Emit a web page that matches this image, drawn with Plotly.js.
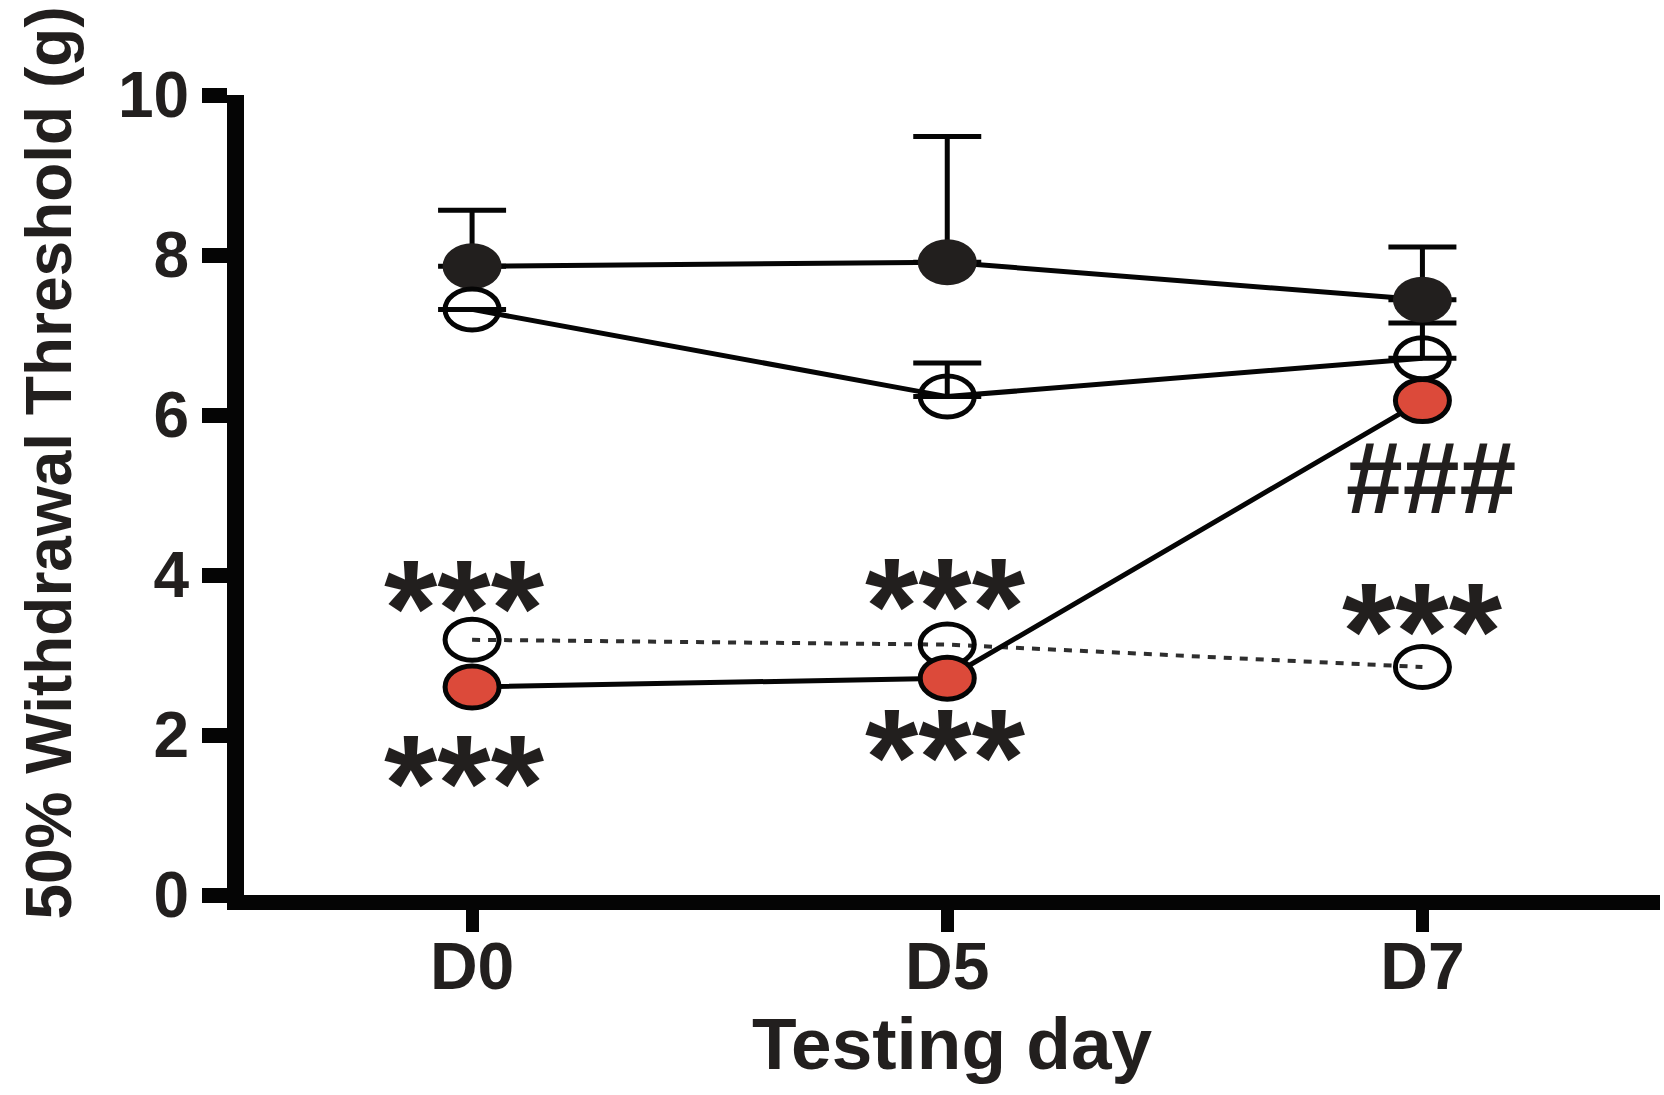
<!DOCTYPE html>
<html><head><meta charset="utf-8">
<script src="https://cdn.plot.ly/plotly-3.0.1.min.js"></script>
<style>html,body{margin:0;padding:0;background:#fff;} #chart{width:1664px;height:1095px;}</style>
</head><body><div id="chart"></div>
<script>
// ---- data ----
const days = ['D0', 'D5', 'D7'];
const filledMean = [7.86, 7.91, 7.44];
const filledErr  = [0.70, 1.57, 0.66];
const openMean   = [7.32, 6.23, 6.71];
const openErr    = [NaN, 0.42, 0.44];   // no visible bar at D0
const dottedMean = [3.19, 3.13, 2.85];
const redMean    = [2.60, 2.71, 6.18];
const starText = ['***', '***', '***', '***', '***'];
const starDay  = [-0.017, -0.017, 0.996, 0.996, 2.0];
const starY    = [3.82, 1.63, 3.84, 1.96, 3.53];
const hashText = ['###'];
const hashDay  = [2.019];
const hashY    = [5.21];
const yTitle = '50% Withdrawal Threshold (g)';
const xTitle = 'Testing day';

const FONT = 'Liberation Sans, Arial, Helvetica, sans-serif';
const INK = '#221f1e';
const BLACK = '#050505';
const RED = '#dc4a3a';

const errStyle = (arr) => ({type: 'data', array: arr, arrayminus: arr.map(() => 0), symmetric: false,
                            color: BLACK, thickness: 5, width: 34});

const traces = [
  { name: 'filled', x: days, y: filledMean, type: 'scatter', mode: 'lines',
    line: {color: BLACK, width: 5}, error_y: errStyle(filledErr) },
  { name: 'open', x: days, y: openMean, type: 'scatter', mode: 'lines',
    line: {color: BLACK, width: 5}, error_y: errStyle(openErr) },
  { name: 'open dotted', x: days, y: dottedMean, type: 'scatter', mode: 'lines',
    line: {color: '#2e2e2e', width: 4, dash: '8px,8px'} },
  { name: 'red', x: days, y: redMean, type: 'scatter', mode: 'lines',
    line: {color: BLACK, width: 5} }
];

// elliptical markers (the reference is horizontally stretched), anchored on the data values
function markerShapes(values, fill, lineW, w, h) {
  return values.map((v, i) => ({
    type: 'circle', xref: 'x', yref: 'y', layer: 'above',
    xsizemode: 'pixel', ysizemode: 'pixel', xanchor: i, yanchor: v,
    x0: -w / 2, x1: w / 2, y0: -h / 2, y1: h / 2,
    fillcolor: fill, line: {color: BLACK, width: lineW}
  }));
}
const shapes = [].concat(
  markerShapes(filledMean, INK, 0, 59, 46),
  markerShapes(openMean, 'rgba(0,0,0,0)', 5, 54, 41),
  markerShapes(dottedMean, 'rgba(0,0,0,0)', 5, 54, 41),
  markerShapes(redMean, RED, 5, 54, 42)
);

const annotations = [];
for (let i = 0; i < starText.length; i++) {
  annotations.push({ x: starDay[i], y: starY[i], xref: 'x', yref: 'y', text: starText[i],
    showarrow: false, xanchor: 'center', yanchor: 'middle', yshift: -19,
    font: {family: FONT, size: 137, color: INK, weight: 'bold'} });
}
for (let i = 0; i < hashText.length; i++) {
  annotations.push({ x: hashDay[i], y: hashY[i], xref: 'x', yref: 'y', text: hashText[i],
    showarrow: false, xanchor: 'center', yanchor: 'middle',
    font: {family: FONT, size: 102, color: INK, weight: 'bold'} });
}
annotations.push({ x: -0.138, y: 0.54, xref: 'paper', yref: 'paper', text: yTitle,
  textangle: -90, showarrow: false, xanchor: 'center', yanchor: 'middle',
  font: {family: FONT, size: 64, color: INK, weight: 'bold'} });

const layout = {
  width: 1664, height: 1095,
  paper_bgcolor: '#ffffff', plot_bgcolor: '#ffffff',
  margin: {l: 244, r: 4, t: 95, b: 200},
  showlegend: false,
  font: {family: FONT, color: INK},
  xaxis: {
    type: 'category', range: [-0.48, 2.5], showgrid: false, zeroline: false,
    showline: true, linecolor: BLACK, linewidth: 15,
    ticks: 'outside', ticklen: 22, tickwidth: 13, tickcolor: BLACK,
    ticklabelstandoff: -22,
    tickfont: {family: FONT, size: 66, color: INK, weight: 'bold'},
    title: {text: xTitle, standoff: 20, font: {family: FONT, size: 73, color: INK, weight: 'bold'}}
  },
  yaxis: {
    range: [0, 10], tickvals: [0, 2, 4, 6, 8, 10], showgrid: false, zeroline: false,
    showline: true, linecolor: BLACK, linewidth: 17,
    ticks: 'outside', ticklen: 25, tickwidth: 15, tickcolor: BLACK,
    ticklabelstandoff: 0,
    tickfont: {family: FONT, size: 64, color: INK, weight: 'bold'}
  },
  shapes: shapes,
  annotations: annotations
};

Plotly.newPlot('chart', traces, layout, {displayModeBar: false, staticPlot: true});
</script>
</body></html>
